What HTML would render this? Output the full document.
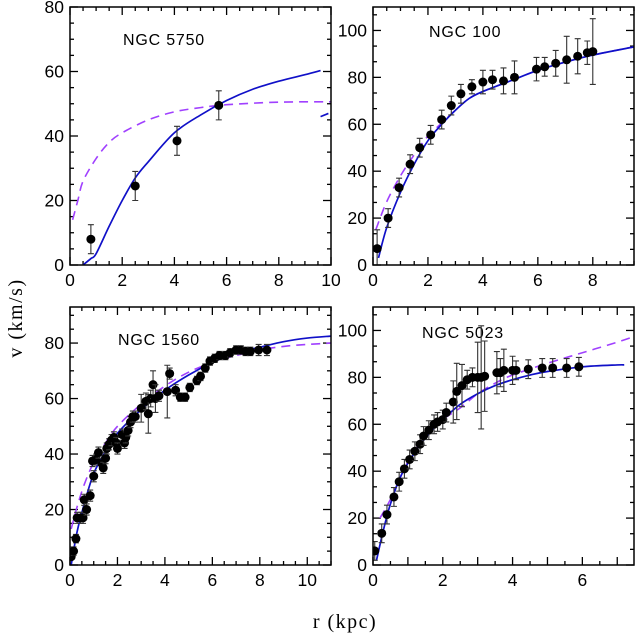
<!DOCTYPE html>
<html><head><meta charset="utf-8"><style>
html,body{margin:0;padding:0;background:#fff;}
svg{display:block;font-family:"Liberation Sans",sans-serif;}
</style></head><body>
<svg id="chart" width="636" height="634" viewBox="0 0 636 634" xmlns="http://www.w3.org/2000/svg">
<text x="0" y="0" transform="translate(22,318) rotate(-90)" text-anchor="middle" font-size="20" letter-spacing="1.5" font-family="Liberation Serif, serif">v (km/s)</text>
<text x="345" y="628" text-anchor="middle" font-size="20" letter-spacing="1.5" font-family="Liberation Serif, serif">r (kpc)</text>
</svg>
<script>
// ---- NGC 5750 ----
const r5750 = [0.8, 2.5, 4.1, 5.7];
const v5750 = [8, 24.5, 38.5, 49.5];
const e5750 = [4.5, 4.5, 4.5, 4.5];
const fitR5750 = [0.5,0.8,1,1.5,2,2.5,3,4,5,6,7,8,9,9.6];
const fitV5750 = [0,2,3.5,12,20,27,32,41,46.5,51,54.5,57,59,60.3];
const fit2R5750 = [9.6,9.9];
const fit2V5750 = [46,47];
const dashR5750 = [0.1,0.3,0.5,1,1.5,2,3,4,5,6,8,10];
const dashV5750 = [14,20,26,33,38,41,45,47.5,48.8,49.7,50.5,50.6];
// ---- NGC 100 ----
const r100 = [0.15,0.55,0.95,1.35,1.7,2.1,2.5,2.85,3.2,3.6,4.0,4.35,4.75,5.15,5.95,6.25,6.65,7.05,7.45,7.8,8.0];
const v100 = [7,20,33,43,50,55.5,62,68,73,76,78,79,78.5,80,83.5,84.5,86,87.5,89,90.5,91];
const e100 = [8,4,4,4,4,4,4,4,4,3,5,4,5.5,7,5,4,5.5,10,7.5,5,14];
const fitR100 = [0.2,0.5,1,1.5,2,2.5,3,3.5,4,5,6,7,8,9.5];
const fitV100 = [3,16,31,43,53,60,66,71,74,78.5,83,86.5,89.5,93];
const dashR100 = [0.1,0.5,1,1.5,2,2.5,3,3.5,4,5,6,7,8,9.5];
const dashV100 = [15,27,38,47,55,60.5,66,71,74,78.5,83,86.5,89.5,93];
// ---- NGC 1560 ----
const r1560 = [0.05,0.15,0.25,0.3,0.45,0.55,0.6,0.7,0.85,0.95,1.0,1.1,1.2,1.35,1.4,1.5,1.55,1.65,1.75,1.85,1.95,2.0,2.2,2.3,2.35,2.45,2.55,2.65,2.75,3.0,3.2,3.3,3.4,3.5,3.6,3.75,4.1,4.2,4.45,4.65,4.85,5.05,5.35,5.5,5.7,5.9,6.1,6.3,6.55,6.75,7.0,7.2,7.4,7.6,7.95,8.3];
const v1560 = [3,5,9.5,17,17,17,23.5,20,25,37.5,32,38,40.5,36.5,35,38.5,42,43.5,45,46,44,42,47,44,46,48.5,51.5,53.5,53.5,56.5,59,54.5,60,65,60,61,62.5,69,63,60.5,60.5,64,66.5,68,71,73.5,74.5,75.5,75.5,76.5,77.5,77.5,77,77,77.5,77.5];
const e1560 = [1,1.5,1.5,2,2,2,2,2,2,2,2,2,2,2,2,2,2,2,2,2,2,2,2,2,2,2,2,2,2,5,3,7,3,5,5,2,9.5,2,2,1.5,1.5,1.5,1.5,1.5,1.5,1.5,1.5,1.5,1.5,1.5,1.5,1.5,1.5,1.5,2,2];
const fitR1560 = [0.05,0.3,0.6,1,1.5,2,3,4,5,6,7,8,9,10,11];
const fitV1560 = [0,12,22,33,41,47.5,56,63,68.5,73,76.5,78.5,80.5,81.8,82.5];
const dashR1560 = [0.05,0.3,0.6,1,1.5,2,3,4,5,6,7,8,9,10,11];
const dashV1560 = [13,21,29,37,44,50,58,64.5,69.5,73,75.5,77.5,78.8,79.5,80];
// ---- NGC 5023 ----
const r5023 = [0.05,0.25,0.4,0.6,0.75,0.9,1.05,1.2,1.35,1.45,1.6,1.75,1.85,2.0,2.1,2.3,2.4,2.55,2.7,2.85,3.0,3.1,3.2,3.55,3.65,3.75,4.0,4.1,4.45,4.85,5.15,5.55,5.9];
const v5023 = [6,13.5,21.5,29,35.5,41,45,48.5,51.5,55,57.5,60,61,62,65,69.5,74,76.5,79,80,80,80,80.5,82,82,83,83,83,83.5,84,84,84,84.5];
const e5023 = [4,4,4,4,4,4,4,4,4,4,4,4,4,4,4,9,12,9,4,4,15,22,15,9,6,9,6,4,4,4,4,4,4];
const fitR5023 = [0.1,0.3,0.5,0.8,1.2,1.6,2,2.5,3,3.5,4,4.5,5,6,7,7.2];
const fitV5023 = [2,15,26,38,48,56,62,68.5,73,76.5,79,81,82.5,84.5,85.3,85.3];
const dashR5023 = [0.2,0.5,1,1.5,2,2.5,3,3.5,4,5,6,7,7.5];
const dashV5023 = [20,28,44,55,62,67,73,77.5,81,86,90.5,95,97.5];

const NS='http://www.w3.org/2000/svg';
const svg=document.getElementById('chart');
function mk(tag,attrs,parent){const e=document.createElementNS(NS,tag);for(const k in attrs)e.setAttribute(k,attrs[k]);(parent||svg).appendChild(e);return e;}
function smooth(P){
  if(P.length<3)return 'M'+P.map(p=>p.join(',')).join('L');
  let d='M'+P[0][0]+','+P[0][1];
  for(let i=0;i<P.length-1;i++){
    const p0=P[i-1]||P[i],p1=P[i],p2=P[i+1],p3=P[i+2]||p2;
    const c1=[p1[0]+(p2[0]-p0[0])/6,p1[1]+(p2[1]-p0[1])/6];
    const c2=[p2[0]-(p3[0]-p1[0])/6,p2[1]-(p3[1]-p1[1])/6];
    d+=`C${c1[0]},${c1[1]} ${c2[0]},${c2[1]} ${p2[0]},${p2[1]}`;
  }
  return d;
}
function panel(o){
  const g=mk('g',{});
  
  
  const X=v=>o.x0+(v-o.xmin)/(o.xmax-o.xmin)*(o.x1-o.x0);
  const Y=v=>o.y0-(v-o.ymin)/(o.ymax-o.ymin)*(o.y0-o.y1);
  const tk=mk('g',{stroke:'#000','stroke-width':1.3},g);
  
  
  for(let v=o.xmin;v<=o.xmax+1e-6;v+=o.xminor){
    const isMaj=Math.abs(v/o.xmajor-Math.round(v/o.xmajor))<1e-6;const L=isMaj?8:4;const px=X(v);
    mk('line',{x1:px,x2:px,y1:o.y0,y2:o.y0-L},tk);mk('line',{x1:px,x2:px,y1:o.y1,y2:o.y1+L},tk);
  }
  for(let v=o.ymin;v<=o.ymax+1e-6;v+=o.yminor){
    const isMaj=Math.abs(v/o.ymajor-Math.round(v/o.ymajor))<1e-6;const L=isMaj?8:4;const py=Y(v);
    mk('line',{y1:py,y2:py,x1:o.x0,x2:o.x0+L},tk);mk('line',{y1:py,y2:py,x1:o.x1,x2:o.x1-L},tk);
  }
  for(const v of o.xlabels){const t=mk('text',{x:X(v),y:o.y0+21,'text-anchor':'middle','font-size':17.5},g);t.textContent=v;
    }
  for(const v of o.ylabels){const t=mk('text',{x:o.x0-6,y:Y(v)+6,'text-anchor':'end','font-size':17.5},g);t.textContent=v;
    }
  const title=mk('text',{x:o.tx,y:o.ty,'font-size':16,'letter-spacing':'0.8'},g);title.textContent=o.title;
  
  const cid='c'+o.name;const cp=mk('clipPath',{id:cid},g);mk('rect',{x:o.x0,y:o.y1,width:o.x1-o.x0,height:o.y0-o.y1},cp);
  const inner=mk('g',{'clip-path':'url(#'+cid+')'},g);
  const line=(R,V,attrs,name)=>{const p=mk('path',Object.assign({d:smooth(R.map((r,i)=>[X(r),Y(V[i])])),fill:'none'},attrs),inner);
    };
  line(o.dR,o.dV,{stroke:'#a040ff','stroke-width':1.6,'stroke-dasharray':'9,6'},'dashed-model-curve');
  line(o.fR,o.fV,{stroke:'#1010c8','stroke-width':1.7},'fit-curve');
  if(o.f2R)line(o.f2R,o.f2V,{stroke:'#1010c8','stroke-width':1.7},'fit-curve-segment');
  o.R.forEach((r,i)=>{
    const cx=X(r),cy=Y(o.V[i]),ya=Y(o.V[i]+o.E[i]),yb=Y(o.V[i]-o.E[i]);
    const eb=mk('path',{d:`M${cx},${ya}V${yb}M${cx-3},${ya}H${cx+3}M${cx-3},${yb}H${cx+3}`,stroke:'#333','stroke-width':1.1,fill:'none'},inner);
    
    const c=mk('circle',{cx:cx,cy:cy,r:4.5,fill:'#000'},inner);
    
  });
  const fr=mk('rect',{x:o.x0,y:o.y1,width:o.x1-o.x0,height:o.y0-o.y1,fill:'none',stroke:'#000','stroke-width':1.5},g);
  
}
panel({name:'panel-ngc-5750',title:'NGC 5750',tx:123,ty:45,x0:70,x1:331,y0:265,y1:7,xmin:0,xmax:10,ymin:0,ymax:80,xmajor:2,xminor:0.5,ymajor:20,yminor:5,
  xlabels:[0,2,4,6,8,10],ylabels:[0,20,40,60,80],R:r5750,V:v5750,E:e5750,fR:fitR5750,fV:fitV5750,f2R:fit2R5750,f2V:fit2V5750,dR:dashR5750,dV:dashV5750});
panel({name:'panel-ngc-100',title:'NGC 100',tx:429,ty:37,x0:373,x1:634,y0:265,y1:7,xmin:0,xmax:9.5,ymin:0,ymax:110,xmajor:2,xminor:0.5,ymajor:20,yminor:20/3,
  xlabels:[0,2,4,6,8],ylabels:[0,20,40,60,80,100],R:r100,V:v100,E:e100,fR:fitR100,fV:fitV100,dR:dashR100,dV:dashV100});
panel({name:'panel-ngc-1560',title:'NGC 1560',tx:118,ty:345,x0:70,x1:331,y0:565,y1:307,xmin:0,xmax:11,ymin:0,ymax:93,xmajor:2,xminor:0.5,ymajor:20,yminor:5,
  xlabels:[0,2,4,6,8,10],ylabels:[0,20,40,60,80],R:r1560,V:v1560,E:e1560,fR:fitR1560,fV:fitV1560,dR:dashR1560,dV:dashV1560});
panel({name:'panel-ngc-5023',title:'NGC 5023',tx:422,ty:338,x0:373,x1:634,y0:565,y1:307,xmin:0,xmax:7.48,ymin:0,ymax:110,xmajor:1,xminor:0.5,ymajor:20,yminor:20/3,
  xlabels:[0,2,4,6],ylabels:[0,20,40,60,80,100],R:r5023,V:v5023,E:e5023,fR:fitR5023,fV:fitV5023,dR:dashR5023,dV:dashV5023});
</script>
</body></html>
